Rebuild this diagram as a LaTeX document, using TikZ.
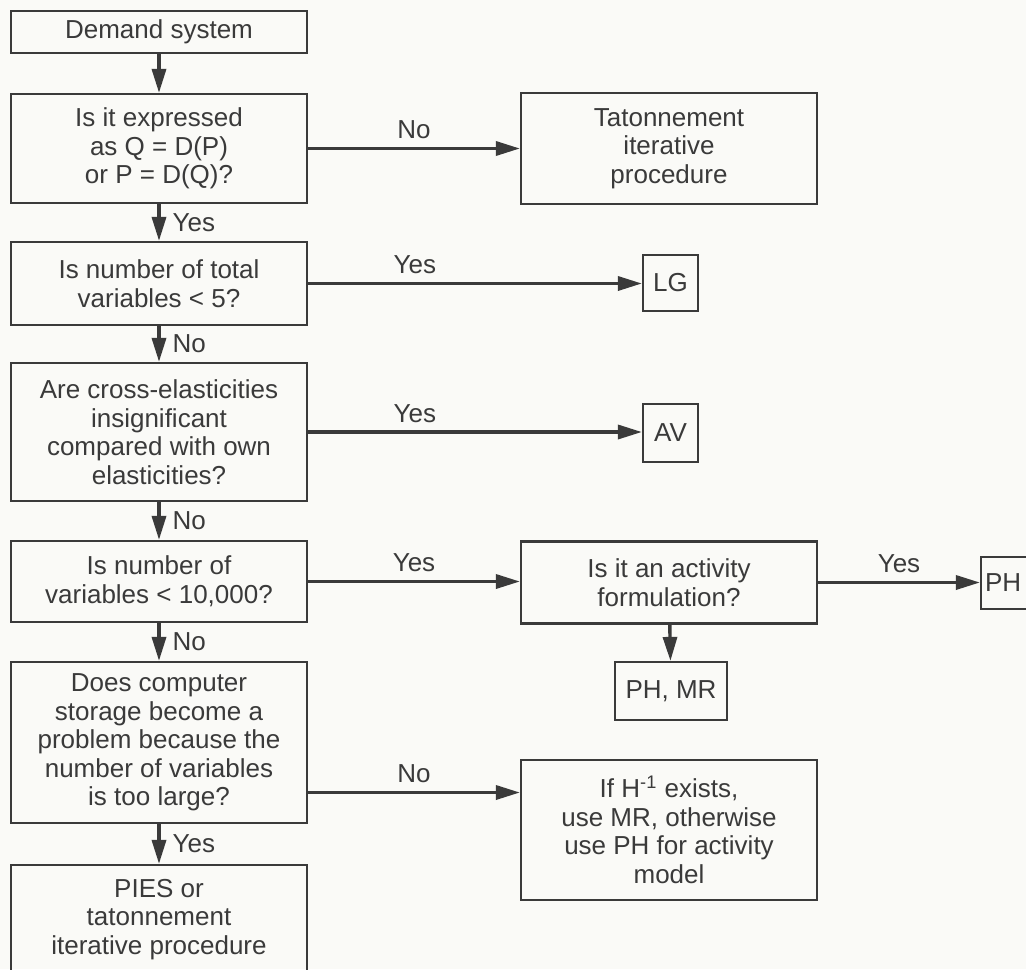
\documentclass[tikz,border=0pt]{standalone}
\usepackage{fontspec}
\setmainfont{Liberation Sans}
\usetikzlibrary{arrows.meta}
\definecolor{ink}{RGB}{58,58,58}
\definecolor{paper}{RGB}{250,250,247}
\begin{document}
\begin{tikzpicture}[x=0.5pt,y=-0.5pt,
    box/.style={draw=ink, line width=1.1pt, align=center, inner sep=0pt, text=ink,
      font=\fontsize{13}{14.3}\selectfont},
    wide/.style={box, minimum width=148pt},
    arr/.style={draw=ink, line width=1.7pt, -{Triangle[length=12pt,width=7pt]}},
    lbl/.style={text=ink, font=\fontsize{13}{14.3}\selectfont, inner sep=2pt}]
        \fill[paper] (0,0) rectangle (1026,969);
        \useasboundingbox (0,0) rectangle (1026,969);

        % Left column of questions
        \node[wide, minimum height=21pt] (demand) at (159,32) {Demand system};
        \node[wide, minimum height=54.5pt] (expr) at (159,148.5) {Is it expressed\\as Q = D(P)\\or P = D(Q)?};
        \node[wide, minimum height=41.5pt] (total) at (159,283.5) {Is number of total\\variables < 5?};
        \node[wide, minimum height=69pt] (cross) at (159,432) {Are cross-elasticities\\insignificant\\compared with own\\elasticities?};
        \node[wide, minimum height=40.5pt] (tenk) at (159,581.5) {Is number of\\variables < 10,000?};
        \node[wide, minimum height=80.5pt] (storage) at (159,742.5) {Does computer\\storage become a\\problem because the\\number of variables\\is too large?};
        \node[wide, minimum height=54.5pt] (pies) at (159,919.5) {PIES or\\tatonnement\\iterative procedure};

        % Right column of outcomes
        \node[wide, minimum height=55.5pt] (taton) at (669,148.5) {Tatonnement\\iterative\\procedure};
        \node[box, minimum width=27.5pt, minimum height=28pt] (LG) at (670.5,283) {LG};
        \node[box, minimum width=27.5pt, minimum height=29pt] (AV) at (670.5,433) {AV};
        \node[wide, minimum height=41pt] (activity) at (669,582.5) {Is it an activity\\formulation?};
        \node[box, minimum width=30pt, minimum height=26pt, text width=26pt, align=left] (PH) at (1011,583) {PH};
        \node[box, minimum width=56pt, minimum height=29pt] (PHMR) at (671,691) {PH, MR};
        \node[wide, minimum height=70pt] (inverse) at (669,830) {If H\textsuperscript{-1} exists,\\use MR, otherwise\\use PH for activity\\model};

        % Down the left column
        \draw[arr] (demand) -- (expr);
        \draw[arr] (expr) -- node[lbl, midway, right, xshift=4pt] {Yes} (total);
        \draw[arr] (total) -- node[lbl, midway, right, xshift=4pt] {No} (cross);
        \draw[arr] (cross) -- node[lbl, midway, right, xshift=4pt] {No} (tenk);
        \draw[arr] (tenk) -- node[lbl, midway, right, xshift=4pt] {No} (storage);
        \draw[arr] (storage) -- node[lbl, midway, right, xshift=4pt] {Yes} (pies);

        % Across to the outcomes
        \draw[arr] (expr.east) -- node[lbl, midway, above, yshift=2pt] {No} (expr.east -| taton.west);
        \draw[arr] (total.east) -- node[lbl, pos=0.32, above, yshift=2pt] {Yes} (total.east -| LG.west);
        \draw[arr] (cross.east) -- node[lbl, pos=0.32, above, yshift=2pt] {Yes} (cross.east -| AV.west);
        \draw[arr] (tenk.east) -- node[lbl, midway, above, yshift=2pt] {Yes} (tenk.east -| activity.west);
        \draw[arr] (activity.east) -- node[lbl, midway, above, yshift=2pt] {Yes} (activity.east -| PH.west);
        \draw[arr] (activity) -- (PHMR);
        \draw[arr] ([yshift=-25pt]storage.east) -- node[lbl, midway, above, yshift=2pt] {No} ([yshift=-25pt]storage.east -| inverse.west);

\end{tikzpicture}
\end{document}
